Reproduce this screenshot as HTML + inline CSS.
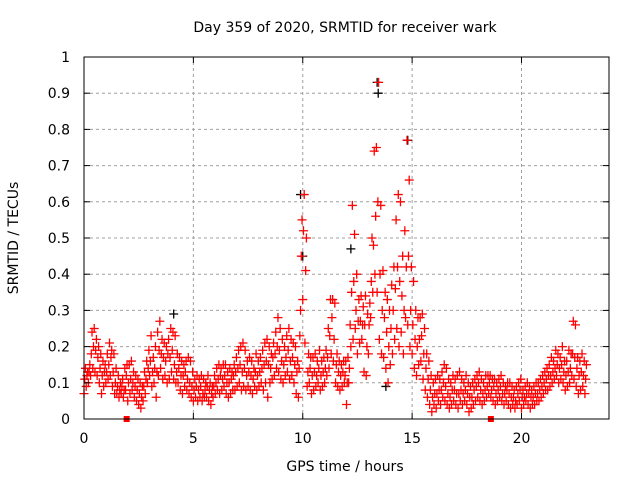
<!DOCTYPE html>
<html><head><meta charset="utf-8"><style>
body{margin:0;background:#fff}
svg{display:block;font-family:"DejaVu Sans","Liberation Sans",sans-serif}
</style></head><body>
<svg id="chart" width="640" height="480" viewBox="0 0 640 480" xmlns="http://www.w3.org/2000/svg">
<rect width="640" height="480" fill="#fff"/>
<text x="345" y="32" font-size="14" text-anchor="middle">Day 359 of 2020, SRMTID for receiver wark</text>
<text x="345" y="471" font-size="14" text-anchor="middle">GPS time / hours</text>
<text transform="translate(18,238) rotate(-90)" font-size="14" text-anchor="middle">SRMTID / TECUs</text>
<g id="grid"></g><g id="marks"></g><g id="axes"></g>
</svg>
<script>
const xTicks=[0,5,10,15,20];
const yTicks=[0,0.1,0.2,0.3,0.4,0.5,0.6,0.7,0.8,0.9,1];
const yTickLabels=["0","0.1","0.2","0.3","0.4","0.5","0.6","0.7","0.8","0.9","1"];
const binStart=0, binStep=0.1;
const redValues=[
[.07,.11,.14],[.09,.12,.13],[.10,.13,.15],[.12,.18,.24],[.14,.20,.25],[.13,.19,.22],[.12,.17,.20],[.10,.14,.18],[.07,.12,.16],[.09,.13,.15],
[.10,.13,.18],[.11,.15,.21],[.12,.17,.19],[.09,.13,.18],[.07,.10,.14],[.07,.09,.12],[.06,.08,.10],[.07,.09,.11],[.06,.08,.14],[.08,.12,.15],
[.05,.10,.15],[.07,.11,.16],[.08,.10,.13],[.06,.09,.12],[.05,.08,.11],[.04,.07,.10],[.03,.06,.09],[.05,.09,.13],[.07,.11,.16],[.10,.14,.19],
[.12,.16,.23],[.09,.13,.17],[.10,.14,.20],[.06,.13,.24],[.12,.19,.27],[.14,.18,.22],[.11,.17,.21],[.12,.16,.20],[.10,.18,.22],[.11,.17,.25],
[.13,.19,.24],[.11,.15,.23],[.10,.13,.18],[.10,.14,.17],[.08,.12,.16],[.07,.12,.15],[.09,.13,.16],[.08,.11,.17],[.07,.10,.16],[.06,.09,.13],
[.05,.08,.11],[.06,.09,.12],[.05,.08,.11],[.06,.09,.12],[.05,.07,.11],[.06,.08,.10],[.06,.09,.12],[.05,.08,.10],[.04,.07,.09],[.06,.09,.12],
[.07,.10,.14],[.08,.11,.15],[.07,.12,.14],[.08,.11,.15],[.09,.12,.15],[.07,.10,.13],[.06,.10,.14],[.07,.11,.13],[.08,.12,.15],[.08,.13,.17],
[.09,.14,.19],[.10,.15,.20],[.08,.13,.21],[.09,.14,.19],[.08,.12,.16],[.09,.13,.17],[.08,.12,.16],[.07,.11,.14],[.09,.13,.18],[.08,.12,.16],
[.09,.13,.17],[.10,.14,.19],[.08,.15,.21],[.10,.16,.22],[.06,.15,.20],[.10,.14,.18],[.11,.17,.21],[.12,.18,.24],[.14,.20,.28],[.13,.19,.25],
[.11,.16,.22],[.10,.15,.20],[.12,.17,.23],[.13,.19,.25],[.11,.16,.22],[.12,.17,.21],[.10,.15,.20],[.07,.13,.16],[.06,.14,.23],[.30,.45,.55],
[.33,.52,.62],[.21,.41,.50],[.09,.13,.18],[.10,.14,.17],[.07,.12,.17],[.08,.13,.18],[.09,.12,.16],[.10,.14,.19],[.08,.12,.16],[.09,.13,.17],
[.10,.14,.19],[.12,.17,.25],[.14,.23,.33],[.18,.28,.33],[.16,.22,.32],[.10,.15,.18],[.09,.13,.16],[.08,.12,.15],[.09,.13,.16],[.10,.12,.16],
[.04,.10,.17],[.10,.14,.26],[.20,.35,.59],[.22,.38,.51],[.25,.30,.40],[.18,.27,.33],[.21,.27,.34],[.22,.26,.31],[.13,.26,.34],[.12,.20,.29],
[.18,.26,.32],[.28,.38,.50],[.35,.48,.74],[.40,.56,.75],[.35,.60,.93],[.22,.40,.59],[.18,.30,.41],[.17,.28,.35],[.14,.24,.33],[.10,.20,.30],
[.15,.25,.37],[.18,.30,.42],[.22,.36,.55],[.25,.42,.62],[.20,.38,.60],[.24,.34,.45],[.18,.30,.52],[.28,.42,.77],[.26,.45,.66],[.20,.30,.42],
[.18,.26,.38],[.14,.22,.30],[.12,.20,.28],[.15,.22,.28],[.16,.23,.29],[.11,.18,.25],[.08,.14,.18],[.06,.11,.16],[.04,.08,.12],[.02,.06,.10],
[.04,.07,.11],[.03,.07,.12],[.05,.08,.11],[.04,.08,.13],[.06,.10,.15],[.05,.09,.14],[.04,.07,.11],[.03,.06,.10],[.04,.08,.12],[.05,.08,.11],
[.04,.07,.12],[.03,.07,.13],[.05,.08,.11],[.04,.07,.10],[.05,.08,.12],[.04,.07,.10],[.02,.06,.09],[.03,.06,.10],[.04,.08,.11],[.05,.09,.12],
[.06,.10,.13],[.05,.08,.11],[.04,.07,.10],[.05,.08,.12],[.06,.09,.12],[.07,.10,.12],[.06,.08,.11],[.05,.09,.11],[.04,.07,.10],[.05,.08,.11],
[.06,.09,.12],[.05,.07,.10],[.04,.07,.09],[.05,.08,.10],[.04,.07,.10],[.03,.06,.09],[.04,.06,.08],[.03,.05,.09],[.04,.07,.10],[.05,.08,.11],
[.03,.06,.08],[.04,.06,.09],[.05,.07,.10],[.04,.07,.09],[.03,.06,.08],[.04,.06,.09],[.04,.07,.10],[.05,.07,.10],[.05,.08,.11],[.06,.09,.12],
[.07,.10,.13],[.08,.11,.14],[.08,.12,.15],[.09,.12,.17],[.10,.13,.16],[.11,.14,.19],[.12,.15,.18],[.10,.14,.17],[.11,.15,.20],[.10,.13,.16],
[.08,.12,.16],[.09,.13,.19],[.10,.14,.18],[.12,.18,.27],[.11,.17,.26],[.09,.14,.17],[.07,.12,.16],[.08,.13,.18],[.09,.12,.16],[.07,.11,.15]
];
const blackTimes=[4.1,9.9,12.2,13.4,13.45,14.8,13.8,10.0];
const blackValues=[.29,.62,.47,.93,.90,.77,.09,.45];
const markerTimes=[1.95,18.6];
const markerValues=[0,0];

const X0=84,X1=609,Y0=419,Y1=57,XMAX=24;
const sx=v=>X0+(X1-X0)*v/XMAX;
const sy=v=>Y0-(Y0-Y1)*v;
const NS="http://www.w3.org/2000/svg";
const mk=(p,t,a)=>{const e=document.createElementNS(NS,t);for(const k in a)e.setAttribute(k,a[k]);p.appendChild(e);return e;};
const grid=document.getElementById('grid'),marks=document.getElementById('marks'),axes=document.getElementById('axes');

yTicks.forEach((v,i)=>{
  const y=sy(v);
  if(i>0&&i<yTicks.length-1){
    const g=mk(grid,'line',{x1:X0,x2:X1,y1:y,y2:y,stroke:'#a0a0a0','stroke-dasharray':'3,3','stroke-width':1});
    
    
  }
  const t1=mk(axes,'line',{x1:X0,x2:X0+6,y1:y,y2:y,stroke:'#000'});
  
  
  mk(axes,'line',{x1:X1,x2:X1-6,y1:y,y2:y,stroke:'#000'});
  const l=mk(axes,'text',{x:70,y:y+5,'font-size':14,'text-anchor':'end'});
  l.textContent=yTickLabels[i];
  
  
});
xTicks.forEach(v=>{
  const x=sx(v);
  if(v>0){
    const g=mk(grid,'line',{x1:x,x2:x,y1:Y0,y2:Y1,stroke:'#a0a0a0','stroke-dasharray':'3,3','stroke-width':1});
    
    
  }
  const t1=mk(axes,'line',{x1:x,x2:x,y1:Y0,y2:Y0-6,stroke:'#000'});
  
  
  mk(axes,'line',{x1:x,x2:x,y1:Y1,y2:Y1+6,stroke:'#000'});
  const l=mk(axes,'text',{x:x,y:443,'font-size':14,'text-anchor':'middle'});
  l.textContent=String(v);
  
  
});
const frame=mk(axes,'rect',{x:X0,y:Y1,width:X1-X0,height:Y0-Y1,fill:'none',stroke:'#000','stroke-width':1});



function plus(x,y,c,name){
  const p=mk(marks,'path',{d:`M${x-4.5},${y}h9M${x},${y-4.5}v9`,stroke:c,'stroke-width':1.3,fill:'none'});
  
  
}
blackTimes.forEach((t,i)=>plus(sx(t),sy(blackValues[i]),'#000','black-point'));
redValues.forEach((vals,i)=>{
  const t=binStart+i*binStep;
  vals.forEach((v,j)=>plus(sx(t+j*binStep/3),sy(v),'#ff0000','red-point'));
});
markerTimes.forEach((t,i)=>{
  const r=mk(marks,'rect',{x:sx(t)-3,y:sy(markerValues[i])-3,width:6,height:6,fill:'#ff0000'});
  
  
});
</script>
</body></html>
